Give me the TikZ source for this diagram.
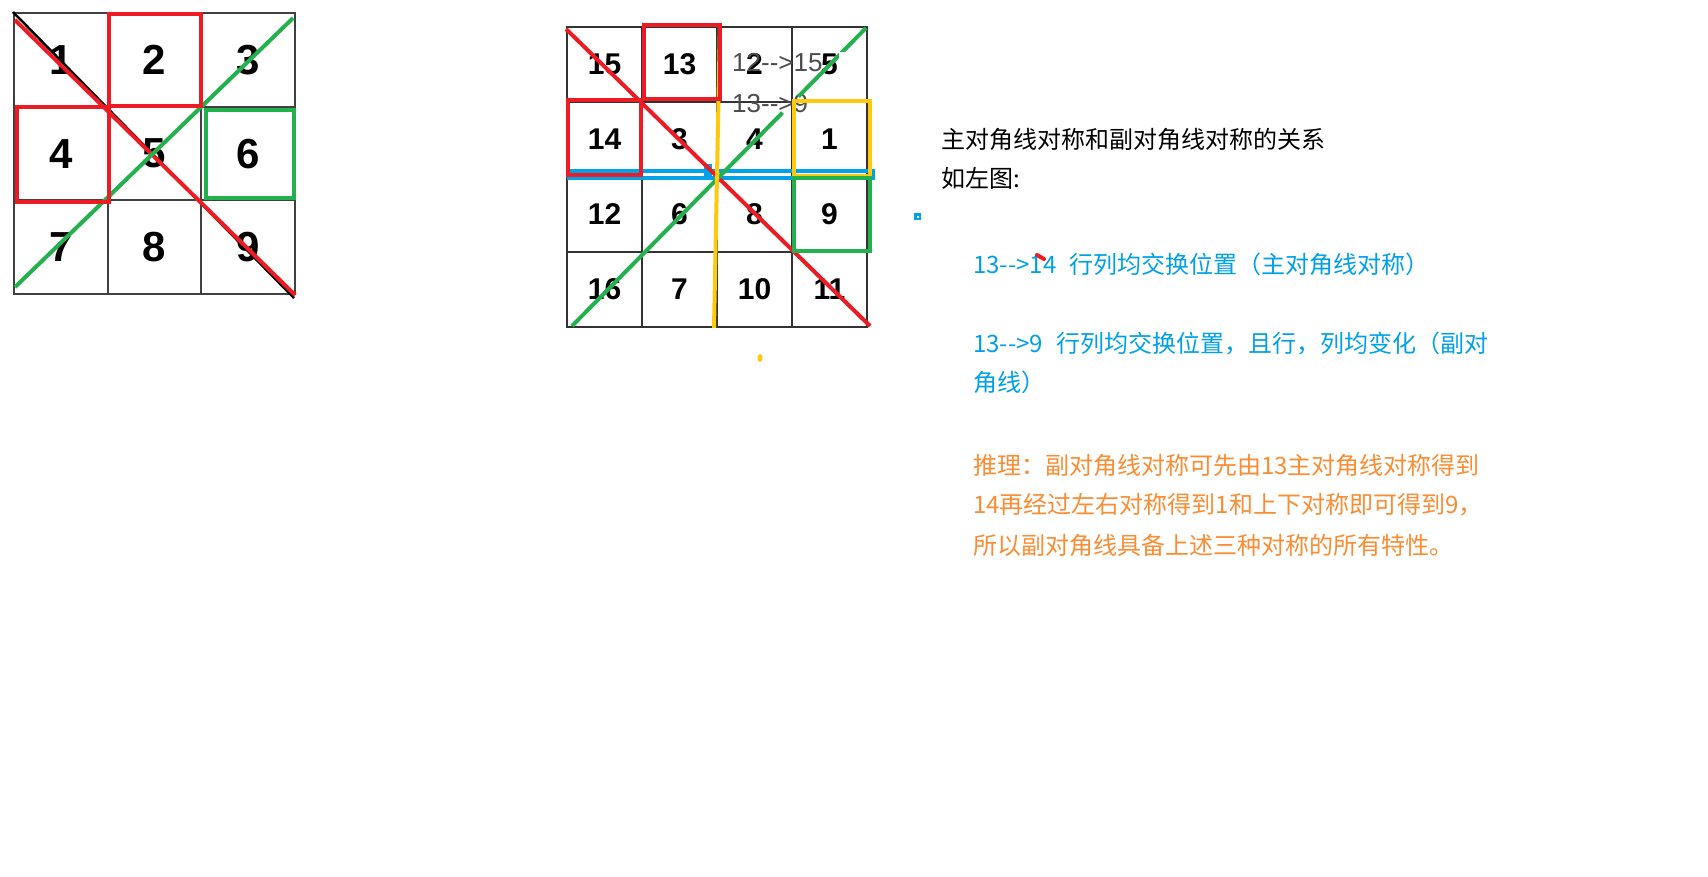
\documentclass[tikz,border=0pt]{standalone}
\usepackage{fontspec}
\setmainfont{Liberation Sans}
\newfontfamily\cjk{Noto Sans CJK SC}
\usetikzlibrary{calc}
\definecolor{pred}{RGB}{237,28,36}
\definecolor{pgreen}{RGB}{34,177,76}
\definecolor{pyellow}{RGB}{255,201,14}
\definecolor{pblue}{RGB}{0,162,232}
\definecolor{tblue}{RGB}{0,160,233}
\definecolor{torange}{RGB}{250,140,50}

\begin{document}
\begin{tikzpicture}[
    x=1pt, y=-1pt,
    bigcell/.style={draw=black!75, line width=2pt, minimum size=93.7pt, inner sep=0pt, font=\fontsize{42}{42}\selectfont\bfseries},
    smallcell/.style={draw=black!80, line width=2pt, minimum size=75pt, inner sep=0pt, font=\fontsize{30}{30}\selectfont\bfseries},
    hlbox/.style={line width=4pt},
    scrawl/.style={anchor=west, inner sep=0pt, text=black!70, font=\fontsize{26}{26}\selectfont},
    note/.style={anchor=west, inner sep=0pt, font=\cjk\fontsize{24}{24}\selectfont, text=#1},
]
\fill[white] (0,0) rectangle (1708,876);
\useasboundingbox (0,0) rectangle (1708,876);

% 3x3 grid
\foreach \n [count=\k] in {1,2,3,4,5,6,7,8,9}{
    \pgfmathsetmacro\cx{14+93.7*(mod(\k-1,3)+0.5)}
    \pgfmathsetmacro\cy{13+93.7*(floor((\k-1)/3)+0.5)}
    \node[bigcell] (a\k) at (\cx,\cy) {\n};
}
\draw[black, line width=2.5pt] (a1.north west) -- ([shift={(-2,3)}]a9.south east);
\draw[pred, line width=4pt] ([shift={(2,8)}]a1.north west) -- ([shift={(-1,0)}]a9.south east);
\draw[pgreen, line width=4pt] ([shift={(2,-8)}]a7.south west) -- ([shift={(-3,6)}]a3.north east);
\draw[pred, hlbox] ([shift={(2,2)}]a2.north west) rectangle ([shift={(-1,-2)}]a2.south east);
\draw[pred, hlbox] ([shift={(4,1)}]a4.north west) rectangle ([shift={(0,1)}]a4.south east);
\draw[pgreen, hlbox] ([shift={(6,4)}]a6.north west) rectangle ([shift={(-2,-3)}]a6.south east);

% 4x4 grid
\foreach \n [count=\k] in {15,13,2,5,14,3,4,1,12,6,8,9,16,7,10,11}{
    \pgfmathsetmacro\cx{567+75*(mod(\k-1,4)+0.5)}
    \pgfmathsetmacro\cy{27+75*(floor((\k-1)/4)+0.5)}
    \node[smallcell] (b\k) at (\cx,\cy) {\n};
}
\node[scrawl] (s1) at (732,63) {12-{}-{}>15};
\node[scrawl] (s2) at (732,104) {13-{}-{}>9};

\draw[pblue, hlbox] ([shift={(3,-5)}]b9.north west) rectangle ([shift={(5,2)}]b12.north east);
\fill[pblue] ([shift={(-14,-12)}]b10.north east) rectangle ([shift={(-6,0)}]b10.north east);
\draw[pred, line width=4pt] ([shift={(0,3)}]b1.north west) -- ([shift={(2,-2)}]b16.south east);
\coordinate (g0) at ([shift={(6,-2)}]b13.south west);
\coordinate (g1) at ([shift={(-2,2)}]b4.north east);
\draw[pgreen, line width=4pt] (g0) -- ($(g0)!0.716!(g1)$);
\draw[pgreen, line width=4pt] ($(g0)!0.77!(g1)$) -- (g1);
\fill[white] (839,52) rectangle (856,77);
\draw[pyellow, line width=4pt] ([shift={(2,-3)}]b2.north east) -- ([shift={(-4,0)}]b14.south east);
\draw[pred, hlbox] ([shift={(3,-1)}]b2.north west) rectangle ([shift={(2,-4)}]b2.south east);
\draw[pred, hlbox] ([shift={(2,-1)}]b5.north west) rectangle ([shift={(-2,-3)}]b5.south east);
\draw[pyellow, hlbox] ([shift={(3,0)}]b8.north west) rectangle ([shift={(2,-2)}]b8.south east);
\draw[pgreen, hlbox] ([shift={(3,2)}]b12.north west) rectangle ([shift={(2,-2)}]b12.south east);

% stray marks
\fill[pyellow] (760,358) ellipse (2.5 and 4);
\fill[pblue] (914,213) rectangle (921,220);
\fill[white] (917,216) rectangle (918.5,217.5);

% notes
\node[note=black] (t1) at (941,139) {主对角线对称和副对角线对称的关系};
\node[note=black] (t2) at (941,178) {如左图:};
\node[note=tblue] (t3) at (973,264) {13-{}->14\hspace{13pt}行列均交换位置（主对角线对称）};
\node[note=tblue] (t4) at (973,344) {13-{}->9\hspace{13pt}行列均交换位置，且行，列均变化（副对};
\node[note=tblue] (t5) at (973,382) {角线）};
\node[note=torange] (t6) at (973,465) {推理：副对角线对称可先由13主对角线对称得到};
\node[note=torange] (t7) at (973,505) {14再经过左右对称得到1和上下对称即可得到9，};
\node[note=torange] (t8) at (973,545) {所以副对角线具备上述三种对称的所有特性。};
\draw[pred, line width=4pt, line cap=round] (1037,255) -- (1044,259);

\end{tikzpicture}
\end{document}
